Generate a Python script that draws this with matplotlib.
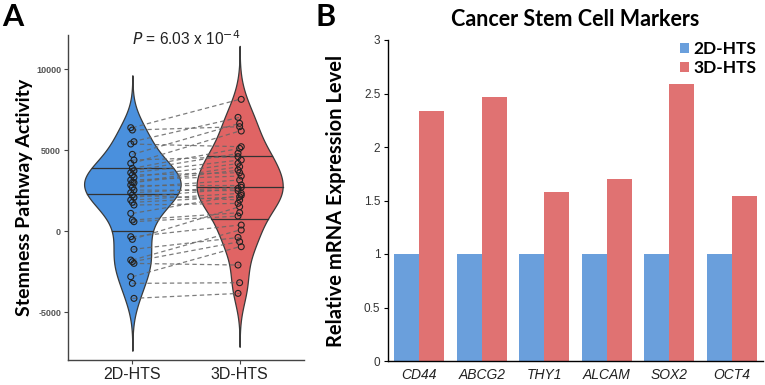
import numpy as np
import matplotlib
matplotlib.use("Agg")
import matplotlib.pyplot as plt

# ---------------- data ----------------
groups_a = ["2D-HTS", "3D-HTS"]
vals_2d = [6380, 6235, 5515, 5370, 4733, 4383, 4177, 3870, 3724, 3600, 3457, 3313,
           3150, 3000, 2984, 2840, 2696, 2531, 2366, 2222, 2078, 1914, 1770, 1605,
           1090, 679, 576, -350, -514, -1132, -1790, -1893, -1996, -2819, -3230, -4156]
vals_3d = [8128, 6440, 7017, 5206, 6646, 4588, 6173, 5103, 4800, 4383, 3600, 4177,
           3395, 3971, 3765, 2840, 3148, 2490, 2700, 1914, 2634, 2325, 2119, 1708,
           2200, 1132, 926, 370, 1502, -391, 62, -658, -2099, -967, -3189, -3848]
p_text = r"$\it{P}$ = 6.03 x 10$^{-4}$"
yticks_a = [-5000, 0, 5000, 10000]

markers = ["CD44", "ABCG2", "THY1", "ALCAM", "SOX2", "OCT4"]
expr_2d = [1, 1, 1, 1, 1, 1]
expr_3d = [2.34, 2.47, 1.58, 1.70, 2.59, 1.54]
yticks_b = [0, 0.5, 1, 1.5, 2, 2.5, 3]
yticklabels_b = ["0", "0.5", "1", "1.5", "2", "2.5", "3"]

c_vio = ["#4a90dd", "#e06464"]
c_bar = ["#6a9fdc", "#e07272"]

fig = plt.figure(figsize=(7.65, 3.85), dpi=100)

# ---------------- panel A ----------------
axA = fig.add_axes([68/765, 1-360/385, (304-68)/765, (360-35)/385])


def kde(data, grid):
    d = np.asarray(data, float)
    n = len(d)
    sd = d.std(ddof=1)
    iqr = np.subtract(*np.percentile(d, [75, 25]))
    bw = 0.9 * min(sd, iqr / 1.34) * n ** -0.2
    dens = np.exp(-0.5 * ((grid[:, None] - d[None, :]) / bw) ** 2).sum(1)
    dens /= n * bw * np.sqrt(2 * np.pi)
    return dens, bw


shapes = []
for vals in (vals_2d, vals_3d):
    d = np.asarray(vals, float)
    _, bw = kde(d, np.array([0.0]))
    grid = np.linspace(d.min() - 3 * bw, d.max() + 3 * bw, 512)
    dens, _ = kde(d, grid)
    shapes.append((grid, dens))

dmax = max(s[1].max() for s in shapes)
for i, (grid, dens) in enumerate(shapes):
    x0 = i + 1
    hw = dens / dmax * 0.45
    axA.fill_betweenx(grid, x0 - hw, x0 + hw, facecolor=c_vio[i],
                      edgecolor="#3a3a3a", lw=0.9, zorder=2)
    cdf = np.cumsum(dens)
    cdf /= cdf[-1]
    for q in (0.25, 0.5, 0.75):
        yq = np.interp(q, cdf, grid)
        w = np.interp(yq, grid, hw)
        axA.plot([x0 - w, x0 + w], [yq, yq], color="#333333", lw=0.9, zorder=3)

for a, b in zip(vals_2d, vals_3d):
    axA.plot([1, 2], [a, b], ls=(0, (3.5, 2.5)), color="#666666", lw=0.9,
             alpha=0.85, zorder=4)

jit = np.array([((k % 3) - 1) * 0.015 for k in range(len(vals_2d))])
axA.scatter(1 + jit, vals_2d, s=18, facecolors="none", edgecolors="#222222",
            linewidths=0.8, zorder=5)
axA.scatter(2 - jit, vals_3d, s=18, facecolors="none", edgecolors="#222222",
            linewidths=0.8, zorder=5)

axA.set_xlim(0.4, 2.6)
axA.set_ylim(-7960, 12100)
axA.set_xticks([1, 2])
axA.set_xticklabels(groups_a, fontsize=11.5, color="#222222", family="Liberation Sans")
axA.set_yticks(yticks_a)
axA.set_yticklabels([str(v) for v in yticks_a], fontsize=6.5, fontweight="bold",
                    color="#555555", family="Liberation Sans")
for s in ("top", "right"):
    axA.spines[s].set_visible(False)
for s in ("left", "bottom"):
    axA.spines[s].set_color("#444444")
    axA.spines[s].set_linewidth(1.0)
axA.tick_params(axis="both", length=3, color="#444444", width=0.8, pad=2)
axA.set_ylabel("Stemness Pathway Activity", fontsize=14, fontweight="bold",
               family="Lato", labelpad=2)
axA.text(1.5, 12450, p_text, ha="center", va="top", fontsize=11.2,
         family="Liberation Sans", color="#222222")

fig.text(2/765, 1-17/385, "A", fontsize=22, fontweight="bold", family="Lato",
         va="center", ha="left")
fig.text(316/765, 1-17/385, "B", fontsize=22, fontweight="bold", family="Lato",
         va="center", ha="left")

# ---------------- panel B ----------------
axB = fig.add_axes([388/765, 1-361/385, (763-388)/765, (361-40)/385])
x = np.arange(len(markers))
w = 0.4
axB.bar(x - w/2, expr_2d, width=w, color=c_bar[0], label="2D-HTS", zorder=2)
axB.bar(x + w/2, expr_3d, width=w, color=c_bar[1], label="3D-HTS", zorder=2)
axB.set_xlim(-0.5, len(markers) - 0.5)
axB.set_ylim(0, 3)
axB.set_yticks(yticks_b)
axB.set_yticklabels(yticklabels_b, fontsize=8.5, color="#333333",
                    family="Liberation Sans")
axB.set_xticks(x)
axB.set_xticklabels(markers, fontsize=10, style="italic", color="#222222",
                    family="Liberation Sans")
axB.tick_params(axis="x", length=0, pad=5)
axB.tick_params(axis="y", length=3, width=0.8, pad=2.5)
for s in ("top", "right"):
    axB.spines[s].set_visible(False)
axB.spines["left"].set_linewidth(1.0)
axB.spines["bottom"].set_linewidth(1.0)
axB.set_ylabel("Relative mRNA Expression Level", fontsize=14.5, fontweight="bold",
               family="Lato", labelpad=13)
axB.set_title("Cancer Stem Cell Markers", fontsize=15.5, fontweight="bold",
              family="Lato", pad=10)
leg = axB.legend(loc="upper right", bbox_to_anchor=(1.01, 1.03), frameon=False,
                 prop={"family": "Lato", "weight": "bold", "size": 12.5},
                 handlelength=0.5, handleheight=0.5, handletextpad=0.25,
                 labelspacing=0.2, borderaxespad=0.2)

fig.savefig("out.png", dpi=100)
